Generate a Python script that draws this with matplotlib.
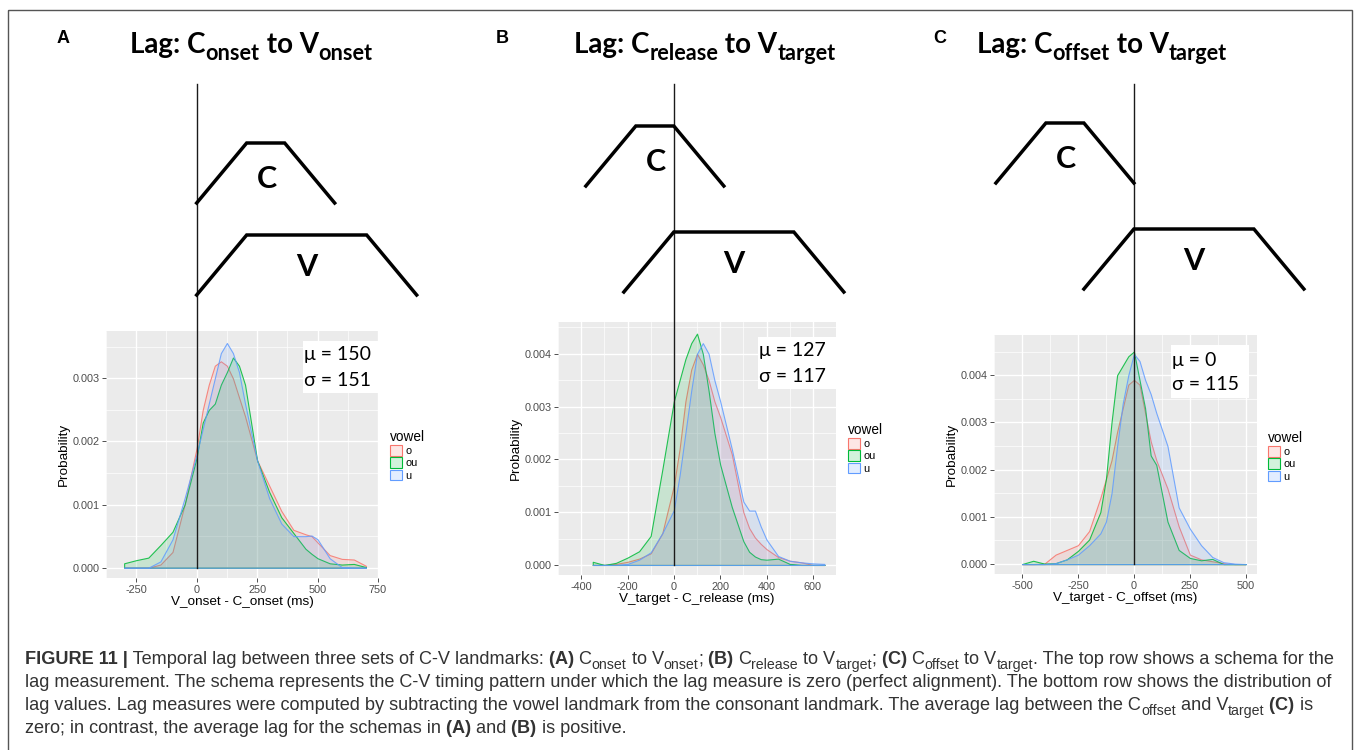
import numpy as np
import matplotlib
matplotlib.use("Agg")
import matplotlib.pyplot as plt
from matplotlib.patches import Rectangle, Patch
from matplotlib.colors import to_rgba

W, H = 1358, 750

vowels = ["o", "ou", "u"]
vowel_colors = ["#F8766D", "#00BA38", "#619CFF"]

panel_letters = ["A", "B", "C"]
c_marks = ["onset", "release", "offset"]
v_marks = ["onset", "target", "target"]
x_labels = ["V_onset - C_onset (ms)", "V_target - C_release (ms)", "V_target - C_offset (ms)"]
mu_vals = [150, 127, 0]
sigma_vals = [151, 117, 115]

# density curves (x: lag in ms, y: probability)
lag_a_x = [-300, -250, -200, -150, -100, -50, 0, 25, 50, 75, 100, 125, 150, 175,
           200, 250, 300, 350, 400, 450, 475, 500, 550, 600, 650, 700]
lag_a_o = [0, 0, 0, 0.00005, 0.00025, 0.001, 0.0019, 0.0025, 0.0029, 0.0032, 0.00327, 0.0032, 0.003, 0.0027,
           0.0024, 0.0017, 0.0013, 0.0009, 0.0006, 0.00053, 0.0005, 0.0004, 0.0002, 0.00014, 0.00013, 0.00003]
lag_a_ou = [0.00007, 0.00012, 0.00016, 0.00036, 0.00057, 0.001, 0.00175, 0.0023, 0.0025, 0.0026, 0.0029, 0.0031, 0.00333, 0.0032,
            0.0029, 0.0017, 0.0012, 0.0008, 0.00055, 0.0003, 0.00022, 0.00015, 0.00007, 0.00005, 0.00006, 0.00001]
lag_a_u = [0, 0, 0, 0.0001, 0.00045, 0.0011, 0.0018, 0.0022, 0.0026, 0.003, 0.0034, 0.00356, 0.0034, 0.0031,
           0.0026, 0.0017, 0.0011, 0.0007, 0.0005, 0.0005, 0.00051, 0.00045, 0.00015, 0.00001, 0, 0]

lag_b_x = [-350, -300, -250, -200, -150, -100, -50, 0, 25, 50, 75, 100, 125, 150,
           175, 200, 250, 300, 325, 350, 375, 400, 450, 500, 550, 600, 650]
lag_b_o = [0, 0, 0.00002, 0.00006, 0.00012, 0.00022, 0.0006, 0.0015, 0.0022, 0.0031, 0.0037, 0.004, 0.0038, 0.0035,
           0.0031, 0.0028, 0.0021, 0.001, 0.0007, 0.00052, 0.0004, 0.0003, 0.00015, 0.00008, 0.00005, 0, 0]
lag_b_ou = [0.00006, 0, 0.00004, 0.00014, 0.00026, 0.00055, 0.0018, 0.0031, 0.0035, 0.0039, 0.0042, 0.00438, 0.004, 0.0033,
            0.0025, 0.0019, 0.0011, 0.00045, 0.00025, 0.00016, 0.00011, 0.0001, 0.00012, 0.00002, 0, 0, 0]
lag_b_u = [0, 0, 0, 0.00002, 0.0001, 0.00024, 0.0006, 0.00104, 0.0017, 0.0025, 0.0033, 0.004, 0.0042, 0.004,
           0.0035, 0.0031, 0.0022, 0.0012, 0.00103, 0.00103, 0.00073, 0.00048, 0.00017, 0.00008, 0.00005, 0.00003, 0.00002]

lag_c_x = [-500, -450, -400, -350, -300, -250, -200, -150, -125, -100, -75, -50, -25, 0,
           25, 50, 75, 100, 150, 200, 250, 300, 350, 400, 450, 500]
lag_c_o = [0, 0, 0.00001, 0.0002, 0.0003, 0.0004, 0.0007, 0.0014, 0.0018, 0.0022, 0.0028, 0.0033, 0.0038, 0.0039,
           0.0038, 0.0032, 0.0026, 0.0022, 0.0016, 0.0008, 0.0002, 0.0001, 0.00006, 0.00002, 0, 0]
lag_c_ou = [0, 0.00007, 0.00001, 0.00002, 0.0001, 0.00028, 0.00052, 0.0011, 0.0018, 0.003, 0.004, 0.0042, 0.0044, 0.0045,
            0.0039, 0.0033, 0.0023, 0.0021, 0.0009, 0.0003, 0.00013, 0.00008, 0.00011, 0, 0, 0]
lag_c_u = [0, 0, 0, 0.00002, 0.0001, 0.0002, 0.0004, 0.00065, 0.0009, 0.0015, 0.0025, 0.0034, 0.004, 0.00445,
           0.0043, 0.0039, 0.0036, 0.0032, 0.0025, 0.0012, 0.00075, 0.0004, 0.00015, 0.00004, 0.00001, 0]

panels = [
    (lag_a_x, [lag_a_o, lag_a_ou, lag_a_u]),
    (lag_b_x, [lag_b_o, lag_b_ou, lag_b_u]),
    (lag_c_x, [lag_c_o, lag_c_ou, lag_c_u]),
]
xticks = [[-250, 0, 250, 500, 750], [-400, -200, 0, 200, 400, 600], [-500, -250, 0, 250, 500]]
yticks = [[0, 0.001, 0.002, 0.003], [0, 0.001, 0.002, 0.003, 0.004], [0, 0.001, 0.002, 0.003, 0.004]]

# layout (pixels)
axes_box = [(106, 331, 378, 578), (558, 322, 836, 575), (994, 335, 1257, 574)]
xlims = [(-350, 750), (-400, 700), (-550, 550)]
ylims = [(-0.000163, 0.00375), (-0.00019, 0.0046), (-0.00021, 0.00485)]
legend_pos = [(390, 430), (848, 423), (1268, 431)]
stat_box = [(0.724, 0.749, 0.276, 0.21), (0.719, 0.735, 0.281, 0.206), (0.673, 0.736, 0.297, 0.222)]
stat_rows = [(0.903, 0.798), (0.889, 0.783), (0.895, 0.791)]
title_x = [130, 574, 977]
letter_x = [57, 496, 933]

# schema trapezoids: ramp / plateau / ramp, offsets relative to the zero line
c_shape = [0, 50, 88, 138]
v_shape = [0, 50, 170, 220]
shape_h = [0, 1, 1, 0]
c_start = [0, -88, -138]
v_start = [0, -50, -50]
c_top = [143, 126, 123]
v_top = [235, 232, 229]

plt.rcParams["font.family"] = ["Liberation Sans", "DejaVu Sans"]
plt.rcParams["axes.unicode_minus"] = False

fig = plt.figure(figsize=(W / 100, H / 100), dpi=100)
fig.patch.set_facecolor("white")

zero_px = []
for i, (x, curves) in enumerate(panels):
    l, t, r, b = axes_box[i]
    ax = fig.add_axes([l / W, 1 - b / H, (r - l) / W, (b - t) / H])
    ax.set_facecolor("#EBEBEB")
    for s in ax.spines.values():
        s.set_visible(False)
    ax.set_xlim(*xlims[i])
    ax.set_ylim(*ylims[i])
    ax.set_xticks(xticks[i])
    ax.set_yticks(yticks[i])
    xs = xticks[i][1] - xticks[i][0]
    ax.set_xticks(np.arange(xticks[i][0] - xs / 2, xlims[i][1], xs), minor=True)
    ax.set_yticks(np.arange(0.0005, ylims[i][1], 0.001), minor=True)
    ax.set_xticklabels([str(v) for v in xticks[i]])
    ax.set_yticklabels(["%.3f" % v for v in yticks[i]])
    ax.grid(which="major", color="white", lw=1.0)
    ax.grid(which="minor", color="white", lw=0.5)
    ax.set_axisbelow(True)
    ax.tick_params(which="major", length=2.7, width=0.6, color="#333333",
                   labelcolor="#4D4D4D", labelsize=7.8, pad=2)
    ax.tick_params(which="minor", length=0)
    ax.set_xlabel(x_labels[i], fontsize=9.7, labelpad=1)
    ax.set_ylabel("Probability", fontsize=9.7, labelpad=2)

    for ys, c in zip(curves, vowel_colors):
        ax.fill_between(x, ys, 0, facecolor=to_rgba(c, 0.15),
                        edgecolor=to_rgba(c, 0.85), linewidth=0.8)

    # stats box
    bx, by, bw, bh = stat_box[i]
    ax.add_patch(Rectangle((bx, by), bw, bh, transform=ax.transAxes,
                           facecolor="white", edgecolor="none", zorder=4))
    ax.text(bx + 0.005, stat_rows[i][0], "\u03bc = %d" % mu_vals[i], transform=ax.transAxes,
            fontsize=14, family=["Lato", "DejaVu Sans"], va="center", zorder=5)
    ax.text(bx + 0.005, stat_rows[i][1], "\u03c3 = %d" % sigma_vals[i], transform=ax.transAxes,
            fontsize=14, family=["Lato", "DejaVu Sans"], va="center", zorder=5)

    # zero line, reaching up through the schema
    y0 = (0 - ylims[i][0]) / (ylims[i][1] - ylims[i][0])
    ax.axvline(0, ymin=y0, ymax=(b - 84) / (b - t), color="#1a1a1a", lw=1.0,
               clip_on=False, zorder=6)

    handles = [Patch(facecolor=to_rgba(c, 0.18), edgecolor=c, linewidth=0.8) for c in vowel_colors]
    lx, ly = legend_pos[i]
    ax.legend(handles, vowels, title="vowel", loc="upper left",
              bbox_to_anchor=(lx / W, 1 - ly / H), bbox_transform=fig.transFigure,
              frameon=False, fontsize=7.8, title_fontsize=9.8, handlelength=1.1,
              handleheight=1.1, handletextpad=0.3, labelspacing=0.12,
              borderpad=0, borderaxespad=0, alignment="left")

    zero_px.append(ax.transData.transform((0, 0))[0])

ov = fig.add_axes([0, 0, 1, 1], zorder=10)
ov.set_xlim(0, W)
ov.set_ylim(H, 0)
ov.axis("off")
ov.patch.set_alpha(0)

ov.add_patch(Rectangle((8, 10), 1344, 800, fill=False, edgecolor="#555555", lw=1.0, clip_on=False))

renderer = fig.canvas.get_renderer()


def rich_text(x, y, pieces, size, family, color, weight="normal"):
    for s, style in pieces:
        fs = size * 0.78 if style == "sub" else size
        dy = size * 100 / 72 * 0.25 if style == "sub" else 0
        w = "bold" if style == "b" else weight
        t = ov.text(x, y + dy, s, fontsize=fs, family=family, color=color,
                    fontweight=w, va="baseline", ha="left")
        x += t.get_window_extent(renderer).width


for i in range(3):
    ov.text(letter_x[i], 43, panel_letters[i], fontsize=13, fontweight="bold", va="baseline")
    rich_text(title_x[i], 53, [("Lag: C", "n"), (c_marks[i], "sub"), (" to V", "n"), (v_marks[i], "sub")],
              20, ["Lato", "DejaVu Sans"], "black", weight="bold")
    z = zero_px[i]
    cx = [z + c_start[i] + v for v in c_shape]
    cy = [c_top[i] + 60 * (1 - h) for h in shape_h]
    vx = [z + v_start[i] + v for v in v_shape]
    vy = [v_top[i] + 60 * (1 - h) for h in shape_h]
    ov.plot(cx, cy, color="black", lw=2.5, solid_joinstyle="miter")
    ov.plot(vx, vy, color="black", lw=2.5, solid_joinstyle="miter")
    ov.text(z + c_start[i] + 70, c_top[i] + 36, "C", fontsize=22, fontweight="bold",
            family="Lato", ha="center", va="center")
    ov.text(z + v_start[i] + 110, v_top[i] + 32, "V", fontsize=22, fontweight="bold",
            family="Lato", ha="center", va="center")

caption = [
    [("FIGURE 11 |", "b"), (" Temporal lag between three sets of C-V landmarks:", "n"), (" (A)", "b"),
     (" C", "n"), ("onset", "sub"), (" to V", "n"), ("onset", "sub"), (";", "n"), (" (B)", "b"),
     (" C", "n"), ("release", "sub"), (" to V", "n"), ("target", "sub"), (";", "n"), (" (C)", "b"),
     (" C", "n"), ("offset", "sub"), (" to V", "n"), ("target", "sub"),
     (". The top row shows a schema for the", "n")],
    [("lag measurement. The schema represents the C-V timing pattern under which the lag measure "
      "is zero (perfect alignment). The bottom row shows the distribution of", "n")],
    [("lag values. Lag measures were computed by subtracting the vowel landmark from the consonant "
      "landmark. The average lag between the C", "n"), ("offset", "sub"), (" and V", "n"),
     ("target", "sub"), (" (C)", "b"), (" is", "n")],
    [("zero; in contrast, the average lag for the schemas in", "n"), (" (A)", "b"), (" and", "n"),
     (" (B)", "b"), (" is positive.", "n")],
]
for k, line in enumerate(caption):
    rich_text(25, 664 + 23 * k, line, 13.1, "Liberation Sans", "#333333")

fig.savefig("out.png", dpi=100)
